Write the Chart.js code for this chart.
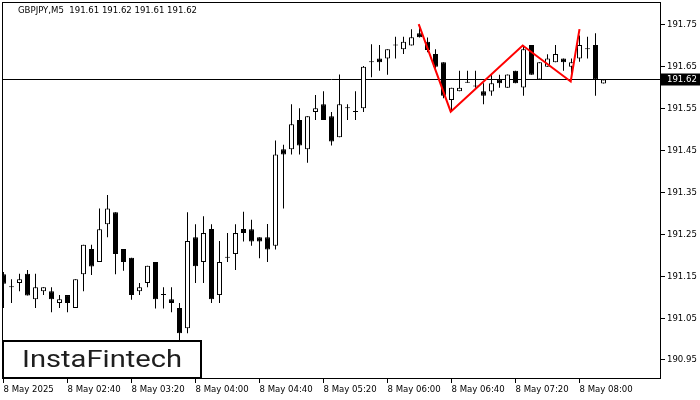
<!DOCTYPE html>
<html><head><meta charset="utf-8">
<script src="https://cdn.jsdelivr.net/npm/chart.js@4.4.1/dist/chart.umd.min.js"></script>
<style>html,body{margin:0;padding:0;background:#fff;}#wrap{width:700px;height:400px;}</style>
</head><body><div id="wrap"><canvas id="c" width="700" height="400"></canvas></div>
<script>
const symbol = 'GBPJPY,M5';
const opens  = [191.155,191.124,191.134,191.156,191.095,191.114,191.114,191.086,191.105,191.074,
                191.155,191.215,191.184,191.274,191.303,191.215,191.194,191.114,191.134,191.184,
                191.105,191.095,191.074,191.026,191.243,191.184,191.263,191.105,191.194,191.203,
                191.263,191.262,191.243,191.243,191.223,191.453,191.453,191.523,191.453,191.542,
                191.561,191.532,191.482,191.551,191.542,191.551,191.661,191.670,191.670,191.701,
                191.692,191.701,191.730,191.710,191.681,191.661,191.571,191.592,191.612,191.603,
                191.592,191.591,191.620,191.600,191.641,191.601,191.702,191.620,191.650,191.661,
                191.670,191.650,191.670,191.692,191.702,191.610];
const highs  = [191.160,191.143,191.156,191.165,191.156,191.124,191.124,191.105,191.105,191.143,
                191.225,191.225,191.312,191.344,191.303,191.215,191.194,191.134,191.175,191.184,
                191.124,191.124,191.086,191.303,191.274,191.293,191.274,191.234,191.253,191.274,
                191.304,191.285,191.243,191.275,191.474,191.464,191.561,191.551,191.532,191.583,
                191.592,191.542,191.632,191.561,191.592,191.652,191.704,191.702,191.692,191.722,
                191.722,191.740,191.742,191.720,191.692,191.661,191.600,191.641,191.641,191.641,
                191.611,191.631,191.631,191.632,191.641,191.702,191.702,191.661,191.680,191.702,
                191.670,191.670,191.725,191.722,191.730,191.620];
const lows   = [191.074,191.086,191.114,191.104,191.074,191.105,191.064,191.074,191.064,191.074,
                191.114,191.153,191.184,191.243,191.155,191.163,191.094,191.105,191.124,191.073,
                191.073,191.064,190.998,191.014,191.134,191.134,191.086,191.086,191.184,191.165,
                191.233,191.223,191.193,191.184,191.214,191.312,191.441,191.441,191.421,191.523,
                191.523,191.462,191.482,191.523,191.523,191.542,191.625,191.641,191.631,191.670,
                191.681,191.701,191.720,191.685,191.640,191.575,191.543,191.592,191.612,191.600,
                191.561,191.581,191.600,191.600,191.611,191.581,191.631,191.620,191.650,191.661,
                191.641,191.631,191.662,191.670,191.581,191.610];
const closes = [191.132,191.124,191.143,191.104,191.124,191.124,191.095,191.095,191.086,191.143,
                191.225,191.173,191.262,191.312,191.203,191.184,191.105,191.124,191.175,191.095,
                191.105,191.086,191.014,191.234,191.174,191.253,191.095,191.184,191.194,191.253,
                191.253,191.233,191.233,191.214,191.441,191.441,191.513,191.462,191.532,191.551,
                191.523,191.472,191.561,191.551,191.542,191.650,191.661,191.661,191.692,191.701,
                191.710,191.721,191.721,191.690,191.650,191.581,191.600,191.600,191.612,191.603,
                191.581,191.611,191.611,191.632,191.611,191.692,191.631,191.661,191.670,191.681,
                191.661,191.661,191.702,191.692,191.620,191.620];
const xTickIdx = [0,8,16,24,32,40,48,56,64,72];
const xTickLabels = ['8 May 2025','8 May 02:40','8 May 03:20','8 May 04:00','8 May 04:40',
                     '8 May 05:20','8 May 06:00','8 May 06:40','8 May 07:20','8 May 08:00'];
const yTicks = [190.95,191.05,191.15,191.25,191.35,191.45,191.55,191.65,191.75];
const patternIdx = [51.9,55.9,64.9,70.9,72.0];
const patternPrice = [191.752,191.543,191.701,191.615,191.740];
const lastPrice = 191.62;
const brand = 'InstaFintech';

const FONT = "'DejaVu Sans Condensed','Liberation Sans',sans-serif";
const idx = opens.map((_, i) => i);
const bodyData = idx.map(i => ({x: i, y: [opens[i], closes[i]]}));
const wickData = idx.map(i => ({x: i, y: [lows[i], highs[i]]}));
const bodyColors = idx.map(i => closes[i] > opens[i] ? '#ffffff' : '#000000');
const n = opens.length;
const titleText = symbol + '  ' + [opens[n-1], highs[n-1], lows[n-1], closes[n-1]].map(v => v.toFixed(2)).join(' ');

const overlay = {
  id: 'overlay',
  beforeDatasetsDraw(chart) {
    const {ctx, chartArea: a, scales: {y}} = chart;
    const py = Math.round(y.getPixelForValue(lastPrice)) + 0.5;
    ctx.save();
    ctx.strokeStyle = '#000'; ctx.lineWidth = 1;
    ctx.beginPath(); ctx.moveTo(a.left, py); ctx.lineTo(a.right, py); ctx.stroke();
    ctx.restore();
  },
  afterDraw(chart) {
    const {ctx, chartArea: a, scales: {y}} = chart;
    ctx.save();
    // frame
    ctx.strokeStyle = '#000'; ctx.lineWidth = 1;
    ctx.strokeRect(a.left + 0.5, a.top + 0.5, a.right - a.left - 1, a.bottom - a.top - 1);
    // price box
    const py = Math.round(y.getPixelForValue(lastPrice)) + 0.5;
    ctx.fillStyle = '#000';
    ctx.fillRect(a.right, py - 6, 700 - a.right, 12);
    ctx.fillStyle = '#fff';
    ctx.font = '9.5px ' + FONT; ctx.textBaseline = 'middle'; ctx.textAlign = 'left';
    ctx.fillText(lastPrice.toFixed(2), a.right + 6, py);
    // title
    ctx.fillStyle = '#000';
    ctx.fillText(titleText, 18, 11);
    // logo
    ctx.fillStyle = '#fff';
    ctx.fillRect(3, 341, 198, 37);
    ctx.strokeStyle = '#000'; ctx.lineWidth = 2;
    ctx.strokeRect(3, 341, 198, 37);
    ctx.fillStyle = '#1e1e1e';
    ctx.font = '23px Roboto, "Open Sans", sans-serif';
    ctx.textBaseline = 'alphabetic';
    const w = ctx.measureText(brand).width;
    const sx = 160 / w;
    ctx.translate(22, 367);
    ctx.scale(sx, 1);
    ctx.fillText(brand, 0, 0);
    ctx.restore();
  }
};

new Chart(document.getElementById('c'), {
  type: 'bar',
  data: { datasets: [
    {type: 'line', data: patternIdx.map((x, i) => ({x, y: patternPrice[i]})), borderColor: '#ff0000',
     borderWidth: 2, pointRadius: 0, fill: false, tension: 0, order: 0},
    {type: 'bar', data: bodyData, backgroundColor: bodyColors, borderColor: '#000', borderWidth: 1,
     borderSkipped: false, barThickness: 5, grouped: false, minBarLength: 1, inflateAmount: 0, order: 1},
    {type: 'bar', data: wickData, backgroundColor: '#000', borderWidth: 0, barThickness: 1,
     grouped: false, inflateAmount: 0, order: 2}
  ]},
  options: {
    responsive: false, animation: false, devicePixelRatio: 1,
    layout: {padding: {left: 2, top: 2, right: 0, bottom: 0}},
    plugins: {legend: {display: false}, tooltip: {enabled: false}},
    scales: {
      x: {type: 'linear', min: -0.1875, max: 82.1875, offset: false,
          grid: {display: true, drawOnChartArea: false, drawTicks: true, tickLength: 4, color: '#000', offset: false},
          border: {display: false},
          ticks: {autoSkip: false, maxRotation: 0, minRotation: 0, align: 'start', padding: 1, color: '#000',
                  font: {family: FONT, size: 9.5},
                  callback: (v) => { const j = xTickIdx.indexOf(v); return j >= 0 ? xTickLabels[j] : ''; }},
          afterBuildTicks: s => { s.ticks = xTickIdx.map(v => ({value: v})); },
          afterFit: s => { s.height = 21; s.paddingLeft = 0; s.paddingRight = 0; }},
      y: {type: 'linear', position: 'right', min: 190.9046, max: 191.8049, beginAtZero: false,
          grid: {display: true, drawOnChartArea: false, drawTicks: true, tickLength: 4, color: '#000'},
          border: {display: false},
          ticks: {padding: 2, color: '#000', font: {family: FONT, size: 9.5}, callback: v => Number(v).toFixed(2)},
          afterBuildTicks: s => { s.ticks = yTicks.map(v => ({value: v})); },
          afterFit: s => { s.width = 39; s.paddingTop = 0; s.paddingBottom = 0; }}
    }
  },
  plugins: [overlay]
});
</script></body></html>
